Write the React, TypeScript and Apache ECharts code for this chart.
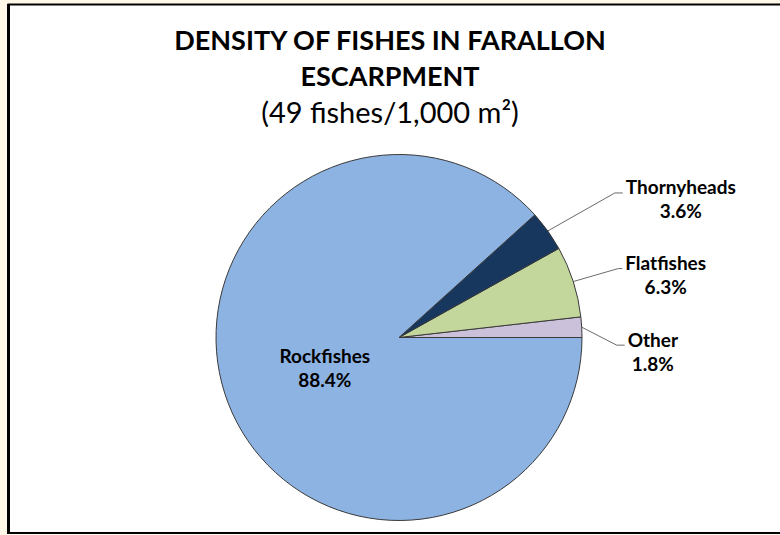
import React, { useEffect, useRef } from 'react';
import * as echarts from 'echarts';

const categories = ['Other', 'Flatfishes', 'Thornyheads', 'Rockfishes'];
const percents = [1.8, 6.3, 3.6, 88.4];
const sliceColors = ['#CCC1DA', '#C3D69B', '#17375E', '#8DB3E2'];
const titleText = 'DENSITY OF FISHES IN FARALLON\nESCARPMENT';
const subtitleText = '(49 fishes/1,000 m²)';

// leader line offsets from the slice edge: [dx, dy, horizontal length]
const leaderOffsets: Record<string, number[]> = {
  Other: [35, 18, 8],
  Flatfishes: [45, -13, 4],
  Thornyheads: [67, -38, 8],
};
const insideOffset = [14, -4];

const FONT = 'Lato, "Open Sans", sans-serif';

export default function App() {
  const ref = useRef<HTMLDivElement>(null);
  useEffect(() => {
    document.body.style.margin = '0';
    const chart = echarts.init(ref.current!, null, { renderer: 'svg' });
    chart.setOption({
      animation: false,
      backgroundColor: '#FFF8E8',
      title: {
        text: titleText,
        subtext: subtitleText,
        left: 'center',
        top: 16,
        itemGap: 2,
        textStyle: { fontFamily: FONT, fontSize: 27, fontWeight: 'bold', color: '#000', lineHeight: 36 },
        subtextStyle: { fontFamily: FONT, fontSize: 29, fontWeight: 'normal', color: '#000', lineHeight: 32 },
      },
      graphic: [
        {
          type: 'rect',
          z: 0,
          shape: { x: 8.5, y: 4.5, width: 800, height: 528.5 },
          style: { fill: '#FFFFFF', stroke: '#000000', lineWidth: 2 },
        },
        {
          type: 'line',
          z: 1,
          shape: { x1: 8.5, y1: 4, x2: 8.5, y2: 534 },
          style: { stroke: '#000000', lineWidth: 3 },
        },
      ],
      series: [
        {
          type: 'pie',
          center: [399, 337.5],
          radius: 183,
          startAngle: 0,
          clockwise: false,
          avoidLabelOverlap: false,
          itemStyle: { borderColor: '#3A3A3A', borderWidth: 1 },
          label: {
            show: true,
            position: 'outside',
            formatter: '{b}\n{c}%',
            fontFamily: FONT,
            fontSize: 19,
            fontWeight: 'bold',
            color: '#000',
            lineHeight: 24,
          },
          labelLine: { show: true, lineStyle: { color: '#6B6B6B', width: 1 } },
          labelLayout: (params: any) => {
            const name = categories[params.dataIndex];
            const r = params.labelRect;
            if (name === 'Rockfishes') {
              return {
                x: r.x + r.width / 2 + insideOffset[0],
                y: r.y + r.height / 2 + insideOffset[1],
                align: 'center',
                verticalAlign: 'middle',
              };
            }
            const pts = params.labelLinePoints;
            const o = leaderOffsets[name];
            if (!pts || !o) return {};
            const x0 = pts[0][0];
            const y0 = pts[0][1];
            const p1 = [x0 + o[0], y0 + o[1]];
            const p2 = [p1[0] + o[2], p1[1]];
            return {
              x: p2[0] + 3 + r.width / 2,
              y: p2[1] + 6,
              align: 'center',
              verticalAlign: 'middle',
              labelLinePoints: [[x0, y0], p1, p2],
            };
          },
          data: categories.map((name, i) => ({
            name,
            value: percents[i],
            itemStyle: { color: sliceColors[i] },
            label: name === 'Rockfishes' ? { position: 'inside' } : undefined,
          })),
        },
      ],
    });
    return () => chart.dispose();
  }, []);
  return <div ref={ref} style={{ width: 780, height: 535 }} />;
}
